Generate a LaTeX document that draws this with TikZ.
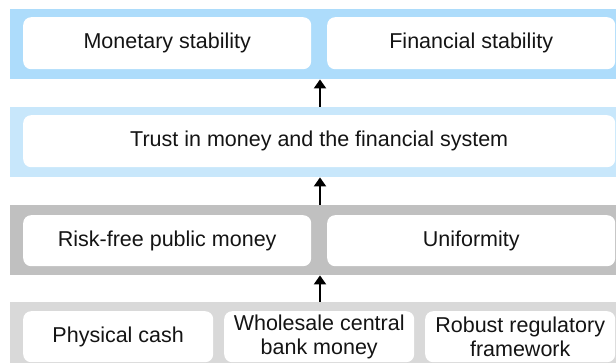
\documentclass[tikz,border=0pt]{standalone}
\usepackage{fontspec}
\setmainfont{Liberation Sans}
\usetikzlibrary{arrows.meta}
\definecolor{bandA}{RGB}{173,220,251}
\definecolor{bandB}{RGB}{200,231,251}
\definecolor{bandC}{RGB}{192,192,192}
\definecolor{bandD}{RGB}{217,217,217}
\definecolor{txt}{RGB}{20,20,20}
\tikzset{
  band/.style={rectangle, inner sep=0pt, anchor=north west, draw=none},
  card/.style={rectangle, rounded corners=8pt, fill=white, draw=none, inner sep=0pt,
    anchor=north west, text=txt, font=\fontsize{21.5pt}{24pt}\selectfont, align=center},
  uparrow/.style={draw=black, line width=2pt, -{Triangle[length=9pt,width=12pt]}}
}
\begin{document}
\begin{tikzpicture}[x=1pt,y=-1pt]
\useasboundingbox (0,0) rectangle (616,363);
\clip (0,0) rectangle (616,363);
% bands
\node[band, fill=bandA, minimum width=618pt, minimum height=70pt] (b1) at (10,9) {};
\node[band, fill=bandB, minimum width=618pt, minimum height=70pt] (b2) at (10,107) {};
\node[band, fill=bandC, minimum width=618pt, minimum height=70pt] (b3) at (10,205) {};
\node[band, fill=bandD, minimum width=618pt, minimum height=70pt] (b4) at (10,302) {};
% cards
\node[card, minimum width=288pt, minimum height=52pt] (mon) at (23,17) {Monetary stability};
\node[card, minimum width=288pt, minimum height=52pt] (fin) at (327,17) {Financial stability};
\node[card, minimum width=592pt, minimum height=52pt] (trust) at (23,115) {Trust in money and the financial system};
\node[card, minimum width=288pt, minimum height=51pt] (risk) at (23,215) {Risk-free public money};
\node[card, minimum width=288pt, minimum height=51pt] (uni) at (327,215) {Uniformity};
\node[card, minimum width=190pt, minimum height=51pt] (cash) at (23,311) {Physical cash};
\node[card, minimum width=190pt, minimum height=51pt] (whole) at (224,311) {Wholesale central\\bank money};
\node[card, minimum width=190pt, minimum height=51pt] (rob) at (425,311) {Robust regulatory\\framework};
% arrows
\coordinate (mid) at (320,0);
\draw[uparrow] (b2.north -| mid) -- (b1.south -| mid);
\draw[uparrow] (b3.north -| mid) -- (b2.south -| mid);
\draw[uparrow] (b4.north -| mid) -- (b3.south -| mid);
\end{tikzpicture}
\end{document}
